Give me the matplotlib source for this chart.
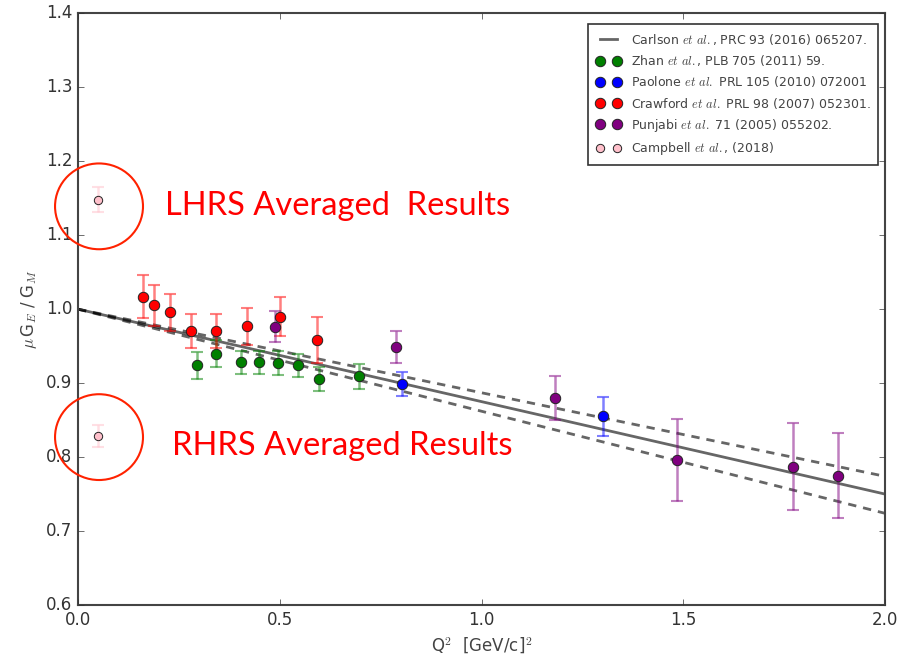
import numpy as np
import matplotlib
matplotlib.use('Agg')
import matplotlib.pyplot as plt
from matplotlib.patches import Ellipse

plt.style.use('classic')

# Carlson fit and its band
fit_q2 = [0.0, 0.5, 1.0, 1.5, 2.0]
fit_mid = [1.0, 0.9375, 0.875, 0.8125, 0.750]
fit_hi = [1.0, 0.9435, 0.887, 0.8305, 0.774]
fit_lo = [1.0, 0.931, 0.862, 0.793, 0.724]

# Zhan et al.
zhan_q2 = [0.294, 0.343, 0.403, 0.448, 0.495, 0.546, 0.596, 0.696]
zhan_r = [0.924, 0.940, 0.928, 0.928, 0.927, 0.924, 0.906, 0.909]
zhan_err = [0.018, 0.018, 0.016, 0.015, 0.016, 0.016, 0.016, 0.017]

# Paolone et al.
paol_q2 = [0.803, 1.302]
paol_r = [0.899, 0.855]
paol_err = [0.016, 0.026]

# Crawford et al.
craw_q2 = [0.160, 0.189, 0.228, 0.280, 0.343, 0.418, 0.500, 0.592]
craw_r = [1.017, 1.005, 0.996, 0.970, 0.971, 0.977, 0.990, 0.958]
craw_err = [0.029, 0.028, 0.025, 0.023, 0.023, 0.025, 0.026, 0.031]

# Punjabi et al.
punj_q2 = [0.487, 0.789, 1.182, 1.484, 1.773, 1.883]
punj_r = [0.976, 0.949, 0.880, 0.796, 0.787, 0.775]
punj_err = [0.021, 0.022, 0.030, 0.055, 0.059, 0.057]

# Campbell et al. (LHRS, RHRS averages)
camp_q2 = [0.049, 0.049]
camp_r = [1.148, 0.829]
camp_err = [0.017, 0.015]

annot_text = ['LHRS Averaged  Results', 'RHRS Averaged Results']

fig = plt.figure(figsize=(8.98, 6.65), dpi=100, facecolor='white')
ax = fig.add_axes([0.0869, 0.0902, 0.8986, 0.8898])

ax.plot(fit_q2, fit_mid, '-', color='k', lw=2, alpha=0.6,
        label=r'Carlson $et\ al.$, PRC 93 (2016) 065207.')
ax.plot(fit_q2, fit_hi, '--', color='k', lw=2, alpha=0.6, dashes=(6, 5))
ax.plot(fit_q2, fit_lo, '--', color='k', lw=2, alpha=0.6, dashes=(6, 5))

sets = [
    (zhan_q2, zhan_r, zhan_err, 'green', r'Zhan $et\ al.$, PLB 705 (2011) 59.', 7.5),
    (paol_q2, paol_r, paol_err, 'blue', r'Paolone $et\ al.$ PRL 105 (2010) 072001', 7.5),
    (craw_q2, craw_r, craw_err, 'red', r'Crawford $et\ al.$ PRL 98 (2007) 052301.', 7.5),
    (punj_q2, punj_r, punj_err, 'purple', r'Punjabi $et\ al.$ 71 (2005) 055202.', 7.5),
    (camp_q2, camp_r, camp_err, 'pink', r'Campbell $et\ al.$, (2018)', 6),
]
for q, r, e, c, lab, ms in sets:
    ax.errorbar(q, r, yerr=e, fmt='none', ecolor=c, alpha=0.5, capsize=4,
                elinewidth=1.8, capthick=1.5, zorder=3)
    ax.plot(q, r, 'o', color=c, mec='#222222', mew=0.7, ms=ms, label=lab, zorder=4)

for cy in [1.139, 0.827]:
    ax.add_patch(Ellipse((0.052, cy), 0.218, 0.116, fill=False, ec='#ff2200',
                         lw=1.5, clip_on=False, zorder=5))

ax.text(0.216, 1.127, annot_text[0], color='red', fontsize=23.5,
        family='Lato', va='baseline', ha='left')
ax.text(0.233, 0.803, annot_text[1], color='red', fontsize=23.5,
        family='Lato', va='baseline', ha='left')

ax.set_xlim(0, 2.0)
ax.set_ylim(0.6, 1.4)
ax.set_xticks([0.0, 0.5, 1.0, 1.5, 2.0])
ax.set_yticks(np.arange(0.6, 1.41, 0.1))
ax.tick_params(labelsize=12, colors='#333333')
for s in ax.spines.values():
    s.set_color('#444444')
    s.set_linewidth(1.5)

ax.set_xlabel(r'Q$^2$  [GeV/c]$^2$', fontsize=12, color='#444444')
ax.set_ylabel(r'$\mu\,$G$_E$ / G$_M$', fontsize=12, color='#444444')

leg = ax.legend(loc='upper right', bbox_to_anchor=(0.9913, 0.9814), numpoints=2,
                fontsize=9, labelspacing=0.5, borderpad=0.6, handlelength=2.0,
                frameon=True, borderaxespad=0)
leg.get_frame().set_edgecolor('#333333')
leg.get_frame().set_linewidth(1.2)
for t in leg.get_texts():
    t.set_color('#444444')

fig.savefig('out.png', dpi=100, facecolor='white')
